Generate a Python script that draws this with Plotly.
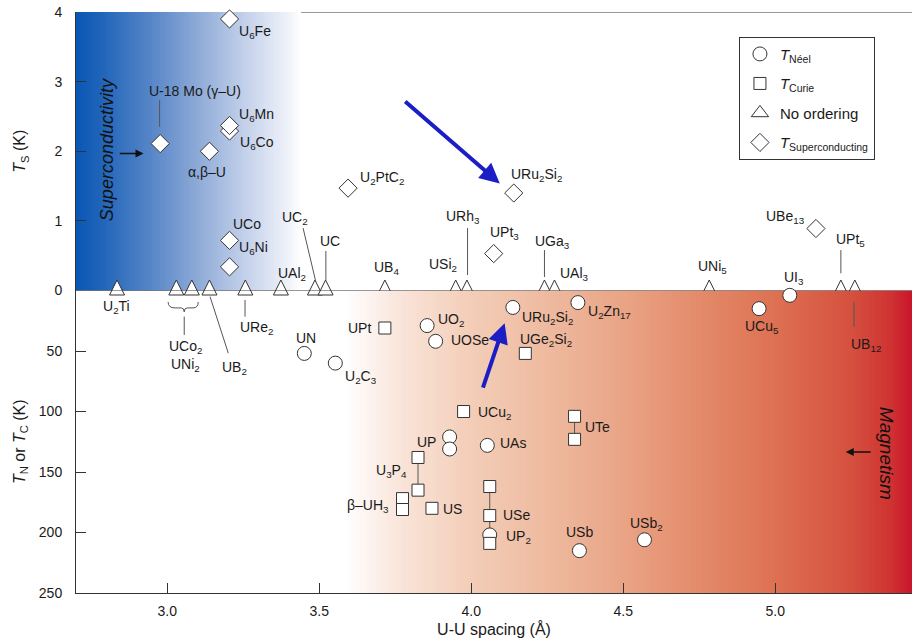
import numpy as np
import plotly.graph_objects as go

FONT = "Liberation Sans, Arial, sans-serif"

# ---------------- data ----------------
# Superconducting (diamonds, top panel, T_S in K)
sc_compounds = ["U6Fe", "U-18Mo", "alpha,beta-U", "U6Co", "U6Mn", "UCo", "U6Ni",
                "U2PtC2", "URu2Si2", "UPt3", "UBe13"]
sc_spacing = [3.205, 2.977, 3.139, 3.205, 3.205, 3.205, 3.205, 3.595, 4.140, 4.074, 5.134]
sc_ts = [3.90, 2.11, 2.00, 2.29, 2.37, 0.72, 0.34, 1.47, 1.40, 0.53, 0.89]

# No ordering (triangles at 0)
none_compounds = ["U2Ti", "UCo2", "UNi2", "UB2", "URe2", "UAl2", "UC2", "UC", "UB4",
                  "USi2", "URh3", "UGa3", "UAl3", "UNi5", "UPt5", "UB12"]
none_spacing = [2.835, 3.030, 3.081, 3.139, 3.257, 3.374, 3.486, 3.521, 3.716,
                3.949, 3.986, 4.241, 4.274, 4.783, 5.216, 5.262]
none_ts = [0, 0, 0, 0, 0, 0, 0, 0, 0, 0, 0, 0, 0, 0, 0, 0]

# Neel temperatures (circles, bottom panel)
neel_compounds = ["UI3", "UCu5", "U2Zn17", "URu2Si2", "UO2", "UOSe", "UN", "U2C3",
                  "UP", "UP", "UAs", "UP2", "USb", "USb2"]
neel_spacing = [5.048, 4.947, 4.351, 4.137, 3.855, 3.883, 3.451, 3.553,
                3.929, 3.929, 4.053, 4.061, 4.356, 4.570]
neel_t = [4, 15, 10, 14, 29, 42, 52, 60, 121, 131, 128, 202, 215, 206]

# Curie temperatures (squares, bottom panel)
curie_compounds = ["UPt", "UGe2Si2", "UCu2", "UTe", "UTe", "U3P4", "U3P4", "b-UH3", "b-UH3",
                   "US", "USe", "USe", "UP2"]
curie_spacing = [3.716, 4.178, 3.975, 4.340, 4.340, 3.825, 3.825, 3.774, 3.774,
                 3.871, 4.061, 4.061, 4.061]
curie_t = [31, 52, 100, 104, 123, 138, 165, 172, 181, 180, 162, 186, 209]

# connected pairs: (series, index) -> (series, index)
connections = [(("c", 3), ("c", 4)), (("c", 5), ("c", 6)), (("c", 10), ("c", 11)),
               (("c", 11), ("n", 11))]

X_RANGE = [2.70, 5.45]
TS_RANGE = [0, 4]
T_RANGE = [250, 0]
x_ticks = [3.0, 3.5, 4.0, 4.5, 5.0]
x_ticktext = ["3.0", "3.5", "4.0", "4.5", "5.0"]
ts_ticks = [0, 1, 2, 3, 4]
t_ticks = [50, 100, 150, 200, 250]

# label texts and positions (x, y, panel)
labels = [
    ("U<sub>6</sub>Fe", 3.289, 3.713, "y"),
    ("U-18 Mo (γ–U)", 3.092, 2.867, "y"),
    ("α,β–U", 3.130, 1.704, "y"),
    ("U<sub>6</sub>Mn", 3.295, 2.518, "y"),
    ("U<sub>6</sub>Co", 3.295, 2.112, "y"),
    ("UCo", 3.262, 0.954, "y"),
    ("U<sub>6</sub>Ni", 3.283, 0.605, "y"),
    ("UAl<sub>2</sub>", 3.410, 0.237, "y"),
    ("UC<sub>2</sub>", 3.420, 1.040, "y"),
    ("UC", 3.535, 0.710, "y"),
    ("UB<sub>4</sub>", 3.723, 0.318, "y"),
    ("USi<sub>2</sub>", 3.907, 0.366, "y"),
    ("URh<sub>3</sub>", 3.973, 1.050, "y"),
    ("UPt<sub>3</sub>", 4.110, 0.821, "y"),
    ("URu<sub>2</sub>Si<sub>2</sub>", 4.214, 1.657, "y"),
    ("U<sub>2</sub>PtC<sub>2</sub>", 3.705, 1.610, "y"),
    ("UGa<sub>3</sub>", 4.269, 0.700, "y"),
    ("UAl<sub>3</sub>", 4.340, 0.237, "y"),
    ("UNi<sub>5</sub>", 4.794, 0.341, "y"),
    ("UI<sub>3</sub>", 5.062, 0.175, "y"),
    ("UBe<sub>13</sub>", 5.035, 1.059, "y"),
    ("UPt<sub>5</sub>", 5.249, 0.725, "y"),
    ("U<sub>2</sub>Ti", 2.833, 13.4, "y2"),
    ("UCo<sub>2</sub>", 3.059, 46.4, "y2"),
    ("UNi<sub>2</sub>", 3.059, 61.5, "y2"),
    ("UB<sub>2</sub>", 3.223, 64.2, "y2"),
    ("URe<sub>2</sub>", 3.295, 31.2, "y2"),
    ("UN", 3.456, 39.4, "y2"),
    ("U<sub>2</sub>C<sub>3</sub>", 3.639, 71.1, "y2"),
    ("UPt", 3.634, 31.2, "y2"),
    ("UO<sub>2</sub>", 3.935, 24.3, "y2"),
    ("UOSe", 3.995, 40.8, "y2"),
    ("URu<sub>2</sub>Si<sub>2</sub>", 4.252, 22.9, "y2"),
    ("U<sub>2</sub>Zn<sub>17</sub>", 4.455, 17.7, "y2"),
    ("UGe<sub>2</sub>Si<sub>2</sub>", 4.247, 40.8, "y2"),
    ("UCu<sub>2</sub>", 4.077, 101.3, "y2"),
    ("UTe", 4.416, 112.4, "y2"),
    ("UP", 3.853, 124.8, "y2"),
    ("UAs", 4.137, 126.1, "y2"),
    ("U<sub>3</sub>P<sub>4</sub>", 3.738, 149.5, "y2"),
    ("β–UH<sub>3</sub>", 3.661, 178.4, "y2"),
    ("US", 3.940, 180.5, "y2"),
    ("USe", 4.148, 185.2, "y2"),
    ("UP<sub>2</sub>", 4.154, 203.6, "y2"),
    ("USb", 4.356, 199.8, "y2"),
    ("USb<sub>2</sub>", 4.577, 192.9, "y2"),
    ("UCu<sub>5</sub>", 4.958, 29.9, "y2"),
    ("UB<sub>12</sub>", 5.298, 45.0, "y2"),
]

# leader lines (x0, y0, x1, y1, panel)
leaders = [
    (2.975, 2.733, 2.975, 2.350, "y"),
    (3.447, 0.897, 3.489, 0.122, "y"),
    (3.522, 0.567, 3.522, 0.151, "y"),
    (3.988, 0.897, 3.988, 0.222, "y"),
    (4.241, 0.581, 4.241, 0.194, "y"),
    (5.216, 0.581, 5.216, 0.247, "y"),
    (3.141, 5.1, 3.201, 51.8, "y2"),
    (3.256, 7.8, 3.256, 21.6, "y2"),
    (5.259, 9.2, 5.259, 29.9, "y2"),
    (3.056, 21.6, 3.056, 36.7, "y2"),
]

blue_scale = [[0, "#0a57b4"], [0.107, "#1f64b9"], [0.329, "#5685c7"], [0.551, "#90acd8"],
              [0.773, "#c8d4ec"], [0.951, "#f0f3f9"], [1, "#ffffff"]]
red_scale = [[0, "#ffffff"], [0.099, "#f9e4d9"], [0.224, "#f3cdb7"], [0.363, "#eeb99e"],
             [0.493, "#e9a385"], [0.627, "#e38a69"], [0.759, "#dd7052"], [0.891, "#d5503e"],
             [0.961, "#cf3131"], [1, "#c9102a"]]

fig = go.Figure()

# background gradients
nb = 160
fig.add_trace(go.Heatmap(x=np.linspace(2.70, 3.44, nb + 1), y=TS_RANGE,
                         z=[list(np.linspace(0, 1, nb))], colorscale=blue_scale,
                         zmin=0, zmax=1, showscale=False, hoverinfo="skip",
                         xaxis="x", yaxis="y"))
nr = 240
fig.add_trace(go.Heatmap(x=np.linspace(3.58, 5.46, nr + 1), y=[0, 250],
                         z=[list(np.linspace(0, 1, nr))], colorscale=red_scale,
                         zmin=0, zmax=1, showscale=False, hoverinfo="skip",
                         xaxis="x", yaxis="y2"))

# zero baseline
fig.add_trace(go.Scatter(x=X_RANGE, y=[0, 0], mode="lines", line=dict(color="#333", width=1),
                         showlegend=False, hoverinfo="skip", xaxis="x", yaxis="y2"))

# connectors between related points
series = {"c": (curie_spacing, curie_t), "n": (neel_spacing, neel_t)}
cx, cy = [], []
for (s0, i0), (s1, i1) in connections:
    cx += [series[s0][0][i0], series[s1][0][i1], None]
    cy += [series[s0][1][i0], series[s1][1][i1], None]
fig.add_trace(go.Scatter(x=cx, y=cy, mode="lines", line=dict(color="#555", width=1),
                         showlegend=False, hoverinfo="skip", xaxis="x", yaxis="y2"))

mline = dict(color="#333", width=1)
fig.add_trace(go.Scatter(x=neel_spacing, y=neel_t, mode="markers", name="<i>T</i><sub>Néel</sub>",
                         legendgroup="a",
                         marker=dict(symbol="circle", size=14, color="white", line=mline),
                         text=neel_compounds, cliponaxis=False, xaxis="x", yaxis="y2"))
fig.add_trace(go.Scatter(x=curie_spacing, y=curie_t, mode="markers", name="<i>T</i><sub>Curie</sub>",
                         legendgroup="b",
                         marker=dict(symbol="square", size=12, color="white", line=mline),
                         text=curie_compounds, cliponaxis=False, xaxis="x", yaxis="y2"))
# legend entry for the "no ordering" series (symbol only)
fig.add_trace(go.Scatter(x=[None], y=[None], mode="markers", name="No ordering",
                         legendgroup="c",
                         marker=dict(symbol="triangle-up", size=15, color="white", line=mline),
                         xaxis="x", yaxis="y"))
fig.add_trace(go.Scatter(x=none_spacing, y=none_ts, mode="markers", name="No ordering",
                         legendgroup="c", showlegend=False,
                         marker=dict(symbol="arrow-down", angle=180, size=15, color="white",
                                     line=mline, standoff=10.5),
                         text=none_compounds, cliponaxis=False, xaxis="x", yaxis="y"))
fig.add_trace(go.Scatter(x=sc_spacing, y=sc_ts, mode="markers",
                         name="<i>T</i><sub>Superconducting</sub>", legendgroup="d",
                         marker=dict(symbol="diamond", size=14, color="white", line=mline),
                         text=sc_compounds, cliponaxis=False, xaxis="x", yaxis="y"))

annotations = []
for text, x, y, ax in labels:
    annotations.append(dict(text=text, x=x, y=y, xref="x", yref=ax, showarrow=False,
                            font=dict(size=14, color="#1a1a1a", family=FONT)))

# region captions and arrows
annotations.append(dict(text="<i>Superconductivity</i>", x=2.802, y=2.016, xref="x", yref="y",
                        textangle=-90, showarrow=False, font=dict(size=18, color="#111", family=FONT)))
annotations.append(dict(text="<i>Magnetism</i>", x=5.364, y=134.9, xref="x", yref="y2",
                        textangle=90, showarrow=False, font=dict(size=19, color="#111", family=FONT)))
annotations.append(dict(text="", x=2.922, y=1.968, ax=2.839, ay=1.968, xref="x", yref="y",
                        axref="x", ayref="y", showarrow=True, arrowhead=2, arrowsize=1,
                        arrowwidth=1.6, arrowcolor="#111"))
annotations.append(dict(text="", x=5.232, y=133.5, ax=5.319, ay=133.5, xref="x", yref="y2",
                        axref="x", ayref="y2", showarrow=True, arrowhead=2, arrowsize=1,
                        arrowwidth=1.6, arrowcolor="#111"))
annotations.append(dict(text="", x=4.094, y=1.538, ax=3.778, ay=2.733, xref="x", yref="y",
                        axref="x", ayref="y", showarrow=True, arrowhead=2, arrowsize=1,
                        arrowwidth=4, arrowcolor="#1a1ec4"))
annotations.append(dict(text="", x=4.110, y=27.1, ax=4.037, ay=81.5, xref="x", yref="y2",
                        axref="x", ayref="y2", showarrow=True, arrowhead=2, arrowsize=1,
                        arrowwidth=4, arrowcolor="#1a1ec4"))

shapes = []
for x0, y0, x1, y1, ax in leaders:
    shapes.append(dict(type="line", x0=x0, y0=y0, x1=x1, y1=y1, xref="x", yref=ax,
                       line=dict(color="#555", width=1), layer="above"))
# brace under UCo2 / UNi2
shapes.append(dict(type="path", xref="x", yref="y2", layer="above",
                   path="M 3.003,9.5 Q 3.003,14.4 3.026,14.4 L 3.046,14.4 Q 3.056,14.4 3.056,17.7 "
                        "Q 3.056,14.4 3.066,14.4 L 3.085,14.4 Q 3.102,14.4 3.102,9.5",
                   line=dict(color="#555", width=1)))
# top frame line
shapes.append(dict(type="line", x0=X_RANGE[0], x1=X_RANGE[1], y0=4, y1=4, xref="x", yref="y",
                   line=dict(color="#333", width=1), layer="below"))

split = 302.5 / 581.0
fig.update_layout(
    width=913, height=644,
    margin=dict(l=76, r=1, t=12, b=51),
    paper_bgcolor="white", plot_bgcolor="white",
    font=dict(family=FONT, size=14, color="#1a1a1a"),
    showlegend=True,
    legend=dict(x=0.793, y=0.9575, xanchor="left", yanchor="top", bgcolor="white",
                bordercolor="#333", borderwidth=1, font=dict(size=15, family=FONT),
                tracegroupgap=7, itemwidth=30),
    xaxis=dict(range=X_RANGE, anchor="y2", tickvals=x_ticks, ticktext=x_ticktext,
               ticks="inside", ticklen=10, tickcolor="#333", showline=True, linecolor="#333",
               linewidth=1, showgrid=False, zeroline=False, ticklabelstandoff=5,
               title=dict(text="U-U spacing (Å)", font=dict(size=16), standoff=6)),
    yaxis=dict(domain=[split, 1], range=TS_RANGE, anchor="x", tickvals=ts_ticks,
               ticks="inside", ticklen=10, tickcolor="#333", showline=True, linecolor="#333",
               linewidth=1, showgrid=False, zeroline=False, ticklabelstandoff=10,
               title=dict(text="<i>T</i><sub>S</sub> (K)", font=dict(size=16), standoff=24)),
    yaxis2=dict(domain=[0, split], range=T_RANGE, anchor="x", tickvals=t_ticks,
                ticks="inside", ticklen=10, tickcolor="#333", showline=True, linecolor="#333",
                linewidth=1, showgrid=False, zeroline=False, ticklabelstandoff=10,
                title=dict(text="<i>T</i><sub>N</sub> or <i>T</i><sub>C</sub> (K)",
                           font=dict(size=16), standoff=9)),
    annotations=annotations,
    shapes=shapes,
)

fig.write_html("out.html", config={"displayModeBar": False},
               post_script="document.body.style.margin='0';")
